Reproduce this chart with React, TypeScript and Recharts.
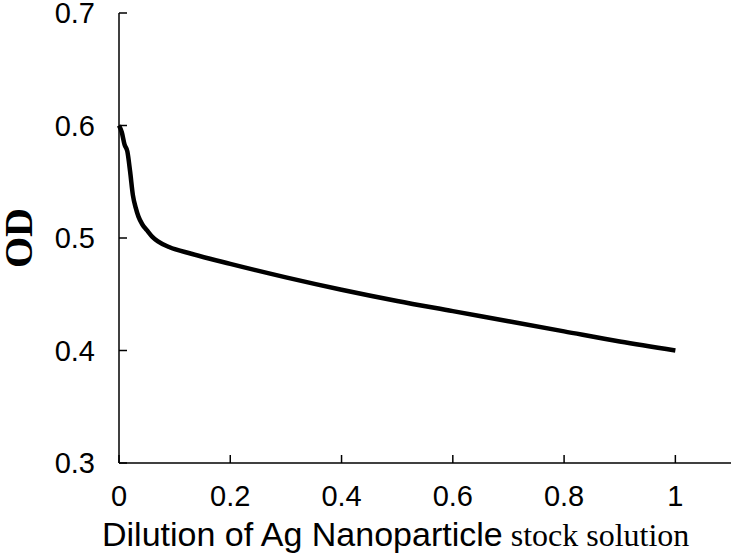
import React from 'react';
import { LineChart, Line, XAxis, YAxis, Label } from 'recharts';

// dilution fraction of the Ag nanoparticle stock solution
const dilution = [0, 0.005, 0.01, 0.015, 0.02, 0.025, 0.03, 0.035, 0.042, 0.05, 0.06, 0.07, 0.09, 0.13, 0.2, 0.3, 0.4, 0.5, 0.6, 0.7, 0.8, 0.9, 1.0];
// optical density
const od = [0.6, 0.594, 0.583, 0.577, 0.559, 0.538, 0.527, 0.519, 0.512, 0.507, 0.501, 0.497, 0.492, 0.486, 0.477, 0.465, 0.454, 0.444, 0.435, 0.426, 0.417, 0.408, 0.4];

const xTicks = [0, 0.2, 0.4, 0.6, 0.8, 1];
const yTicks = [0.3, 0.4, 0.5, 0.6, 0.7];

const data = dilution.map((d, i) => ({ dilution: d, od: od[i] }));

const sans = '"Liberation Sans", Arial, sans-serif';
const serif = '"Liberation Serif", "Times New Roman", serif';
const TICK_LEN = 8;
const X_MARGIN = 22;
const Y_MARGIN = 24;

// tick label plus an inward tick mark, placed from the axis' own tick coordinates
const XTick = (props: any) => {
    const { x, y, payload } = props;
    const axisY = y - X_MARGIN;
    return (
        <g>
            <line x1={x} x2={x} y1={axisY} y2={axisY - TICK_LEN} stroke="#000" strokeWidth={1.5} />
            <text x={x} y={y} dy="0.71em" textAnchor="middle" fill="#000" fontSize={29} fontFamily={sans}>
                {String(payload.value)}
            </text>
        </g>
    );
};

const YTick = (props: any) => {
    const { x, y, payload } = props;
    const axisX = x + Y_MARGIN;
    return (
        <g>
            <line x1={axisX} x2={axisX + TICK_LEN} y1={y} y2={y} stroke="#000" strokeWidth={1.5} />
            <text x={x} y={y} dy="0.355em" textAnchor="end" fill="#000" fontSize={29} fontFamily={sans}>
                {String(payload.value)}
            </text>
        </g>
    );
};

const XLabel = () => (
    <text x={102} y={546} fill="#000">
        <tspan fontFamily={sans} fontSize={34}>Dilution of Ag Nanoparticle</tspan>
        <tspan fontFamily={serif} fontSize={32} dx={8}>stock solution</tspan>
    </text>
);

const YLabel = () => (
    <text
        x={18}
        y={238}
        transform="rotate(-90, 18, 238)"
        textAnchor="middle"
        dominantBaseline="central"
        fill="#000"
        fontFamily={serif}
        fontWeight="bold"
        fontSize={40}
    >
        OD
    </text>
);

const App: React.FC = () => {
    return (
        <div style={{ width: 734, height: 558 }}>
            <style>{'body{margin:0}'}</style>
            <LineChart width={734} height={558} data={data} margin={{ top: 13, right: 3, left: 0, bottom: 0 }}>
                <XAxis
                    dataKey="dilution"
                    type="number"
                    domain={[0, 1.1]}
                    ticks={xTicks}
                    height={95}
                    stroke="#000"
                    strokeWidth={1.5}
                    tickLine={false}
                    tickSize={0}
                    tickMargin={X_MARGIN}
                    tick={<XTick />}
                >
                    <Label content={<XLabel />} />
                </XAxis>
                <YAxis
                    type="number"
                    domain={[0.3, 0.7]}
                    ticks={yTicks}
                    width={119}
                    stroke="#000"
                    strokeWidth={1.5}
                    tickLine={false}
                    tickSize={0}
                    tickMargin={Y_MARGIN}
                    tick={<YTick />}
                >
                    <Label content={<YLabel />} />
                </YAxis>
                <Line
                    type="monotone"
                    dataKey="od"
                    stroke="#000"
                    strokeWidth={4.5}
                    dot={false}
                    isAnimationActive={false}
                />
            </LineChart>
        </div>
    );
};

export default App;
